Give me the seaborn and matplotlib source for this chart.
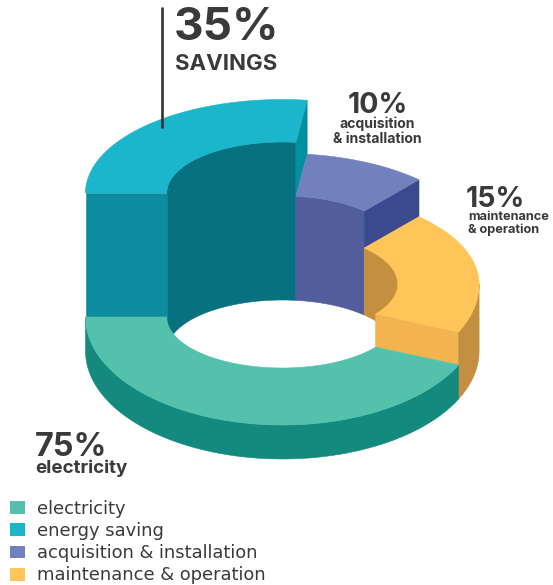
import numpy as np
import matplotlib
matplotlib.use("Agg")
import matplotlib.pyplot as plt
from matplotlib.patches import Patch
import seaborn as sns

categories = ["electricity", "energy saving", "acquisition & installation", "maintenance & operation"]
shares = [75, 35, 10, 15]
# Direction of each slice boundary on the outer and inner rims, in degrees
outer_cuts = [180, 75, 26.2, -15.2]
inner_cuts = [180, 75, 23.7, -17.9]
# Height of each slice's upper surface above the floor of the ring
slice_heights = [34, 158, 104, 67]

top_colors = sns.color_palette(["#54C1AC", "#1BB6CB", "#7281BD", "#FFC559"])
inner_colors = ["#087180", "#087180", "#525D9B", "#C48F3E"]
end_colors = ["#0C8C9E", "#00909F", "#3A4A8F", "#F3B44F"]
outer_colors = {"electricity": "#148A7E", "maintenance": "#C48F3E"}
INK = "#3A3A3C"

# Ring geometry in figure pixels
CX, FLOOR = 282.3, 351.0
OUT_RX, OUT_RY_BACK, OUT_RY_FRONT = 196.8, 93.5, 108.0
IN_RX, IN_RY = 115.5, 51.0


def param(phi, rx, ry):
    """Ellipse parameter where a ray at angle phi meets the ellipse."""
    p = np.radians(phi)
    return np.degrees(np.arctan2(np.sin(p) / ry, np.cos(p) / rx))


def outer_t(phi):
    ry = OUT_RY_BACK if np.sin(np.radians(phi)) > 0 else OUT_RY_FRONT
    return param(phi, OUT_RX, ry)


def inner_t(phi):
    return param(phi, IN_RX, IN_RY)


def outer_arc(t0, t1, level):
    t = np.radians(np.linspace(t0, t1, 160))
    ry = np.where(np.sin(t) > 0, OUT_RY_BACK, OUT_RY_FRONT)
    return np.column_stack([CX + OUT_RX * np.cos(t), level - ry * np.sin(t)])


def inner_arc(t0, t1, level):
    t = np.radians(np.linspace(t0, t1, 160))
    return np.column_stack([CX + IN_RX * np.cos(t), level - IN_RY * np.sin(t)])


def paint(ax, points, color):
    ax.fill(points[:, 0], points[:, 1], color=color, lw=0.4, ec=color)


def end_face(ax, t_out, t_in, high, low, color):
    corners = np.vstack([outer_arc(t_out, t_out, high)[:1], inner_arc(t_in, t_in, high)[:1],
                         inner_arc(t_in, t_in, low)[:1], outer_arc(t_out, t_out, low)[:1]])
    paint(ax, corners, color)


sns.set_theme(style="white")
fig = plt.figure(figsize=(5.53, 5.85), dpi=100)
ax = fig.add_axes([0, 0, 1, 1])
ax.set_xlim(0, 553)
ax.set_ylim(585, 0)
ax.axis("off")

levels = [FLOOR - h for h in slice_heights]
t_outer = [outer_t(phi) for phi in outer_cuts]
t_inner = [inner_t(phi) for phi in inner_cuts]

# Visible inner walls of the three raised slices
paint(ax, np.vstack([inner_arc(180, t_inner[1], levels[1]), inner_arc(t_inner[1], 180, FLOOR)]), inner_colors[1])
paint(ax, np.vstack([inner_arc(t_inner[1], t_inner[2], levels[2]), inner_arc(t_inner[2], t_inner[1], FLOOR)]), inner_colors[2])
paint(ax, np.vstack([inner_arc(t_inner[2], 0, levels[3]), inner_arc(0, t_inner[2], FLOOR)]), inner_colors[3])

# Exposed end faces where a taller slice steps down to its neighbour
end_face(ax, t_outer[1], t_inner[1], levels[1], levels[2], end_colors[1])
end_face(ax, t_outer[2], t_inner[2], levels[2], levels[3], end_colors[2])
end_face(ax, t_outer[3], t_inner[3], levels[3], levels[0], end_colors[3])
end_face(ax, 180, 180, levels[1], levels[0], end_colors[0])

# Outer walls facing the viewer
paint(ax, np.vstack([outer_arc(t_outer[3], 0, levels[3]), outer_arc(0, t_outer[3], FLOOR)]), outer_colors["maintenance"])
paint(ax, np.vstack([outer_arc(180, 360 + t_outer[3], levels[0]), outer_arc(360 + t_outer[3], 180, FLOOR)]),
      outer_colors["electricity"])

# Upper surfaces
paint(ax, np.vstack([outer_arc(180, t_outer[1], levels[1]), inner_arc(t_inner[1], 180, levels[1])]), top_colors[1])
paint(ax, np.vstack([outer_arc(t_outer[1], t_outer[2], levels[2]), inner_arc(t_inner[2], t_inner[1], levels[2])]), top_colors[2])
paint(ax, np.vstack([outer_arc(t_outer[2], t_outer[3], levels[3]), inner_arc(t_inner[3], t_inner[2], levels[3])]), top_colors[3])
paint(ax, np.vstack([outer_arc(180, 360 + t_outer[3], levels[0]), inner_arc(360 + t_inner[3], 180, levels[0])]), top_colors[0])

# Leader line for the savings callout
ax.plot([162, 162], [7, 128], color="#333333", lw=1.9, solid_capstyle="butt")

# Callouts
BOLD = dict(family="Inter", fontweight="bold", color=INK, va="baseline")
ax.text(174, 40, f"{shares[1]}%", fontsize=33, **BOLD)
ax.text(175, 70, "SAVINGS", fontsize=16, **BOLD)
ax.text(348, 113, f"{shares[2]}%", fontsize=20.5, **BOLD)
ax.text(377.5, 128, "acquisition", fontsize=10.1, ha="center", **BOLD)
ax.text(377.5, 143, "& installation", fontsize=10.1, ha="center", **BOLD)
ax.text(466, 207, f"{shares[3]}%", fontsize=20.5, **BOLD)
ax.text(468, 220, "maintenance", fontsize=9.2, **BOLD)
ax.text(468, 233, "& operation", fontsize=9.2, **BOLD)
ax.text(35, 456, f"{shares[0]}%", fontsize=23.3, **BOLD)
ax.text(35, 473, categories[0], fontsize=13.5, **BOLD)

# Legend
handles = [Patch(color=c, label=n, lw=0) for c, n in zip(top_colors, categories)]
ax.legend(handles=handles, loc="upper left", bbox_to_anchor=(10 / 553, 1 - 500 / 585), frameon=False,
          borderpad=0, borderaxespad=0, labelcolor=INK, handlelength=0.84, handleheight=0.73,
          handletextpad=0.67, labelspacing=0.23, prop=dict(family="DejaVu Sans", size=12.9))

fig.savefig("out.png", dpi=100)
